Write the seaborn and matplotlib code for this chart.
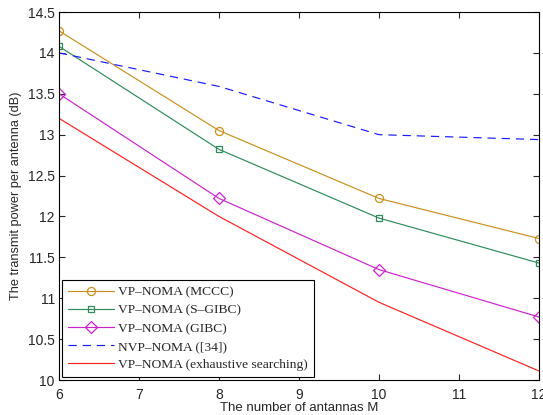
import matplotlib
matplotlib.use("Agg")
import matplotlib.pyplot as plt
import seaborn as sns
import pandas as pd

antennas = [6, 8, 10, 12]
mccc = [14.27, 13.05, 12.22, 11.73]
sgibc = [14.08, 12.82, 11.98, 11.43]
gibc = [13.50, 12.22, 11.35, 10.77]
nvp = [14.00, 13.59, 13.00, 12.94]
exhaustive = [13.20, 12.00, 10.95, 10.11]

labels = ["VP\u2013NOMA (MCCC)", "VP\u2013NOMA (S\u2013GIBC)", "VP\u2013NOMA (GIBC)",
          "NVP\u2013NOMA ([34])", "VP\u2013NOMA (exhaustive searching)"]
series = [mccc, sgibc, gibc, nvp, exhaustive]
colors = ["#C8901E", "#2E8B5A", "#CC22CC", "#1A1AFF", "#FF2020"]
markers = ["o", "s", "D", None, None]
msizes = [5.8, 5, 5.8, 0, 0]
lstyles = ["-", "-", "-", (0, (7, 5)), "-"]

sns.set_style("ticks")
plt.rcParams["font.family"] = ["Liberation Sans", "DejaVu Sans"]

fig = plt.figure(figsize=(5.43, 4.15), dpi=100)
ax = fig.add_axes([59/543, 1 - 380/415, 480/543, 368/415])

for lab, vals, c, m, ms, ls in zip(labels, series, colors, markers, msizes, lstyles):
    df = pd.DataFrame({"M": antennas, "P": vals})
    kw = {}
    if m is not None:
        kw = dict(marker=m, markersize=ms, markerfacecolor="none",
                  markeredgecolor=c, markeredgewidth=0.9)
    sns.lineplot(data=df, x="M", y="P", ax=ax, color=c, linewidth=0.85,
                 linestyle=ls, label=lab, **kw)

ax.set_xlim(6, 12)
ax.set_ylim(10, 14.5)
ax.set_xticks([6, 7, 8, 9, 10, 11, 12])
ax.set_yticks([10, 10.5, 11, 11.5, 12, 12.5, 13, 13.5, 14, 14.5])
ax.set_yticklabels(["10", "10.5", "11", "11.5", "12", "12.5", "13", "13.5", "14", "14.5"])
ax.tick_params(direction="in", top=True, right=True, labelsize=10, length=4, width=0.8)
ax.tick_params(axis="x", pad=6)
ax.tick_params(axis="y", pad=3)
for sp in ax.spines.values():
    sp.set_linewidth(0.8)
    sp.set_color("black")

ax.set_xlabel("The number of antannas M", fontsize=9.5, labelpad=0)
ax.set_ylabel("The transmit power per antenna (dB)", fontsize=9.2, labelpad=4)

leg = ax.legend(loc="lower left", bbox_to_anchor=(0.006, 0.008), fancybox=False,
                framealpha=1, edgecolor="black", prop={"family": "Liberation Serif", "size": 9.7},
                handlelength=3.4, borderpad=0.45, labelspacing=0.42, handletextpad=0.3,
                borderaxespad=0)
leg.get_frame().set_linewidth(0.8)

fig.savefig("out.png", dpi=100)
